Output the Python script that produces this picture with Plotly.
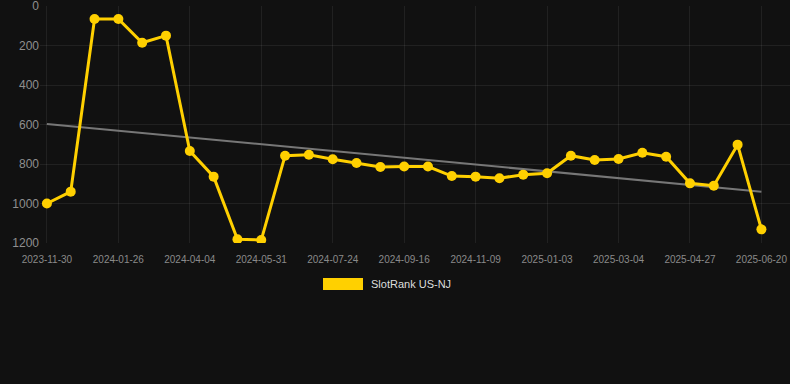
import plotly.graph_objects as go

dates = [
    "2023-11-30", "2023-12-19", "2024-01-07",
    "2024-01-26", "2024-02-18", "2024-03-12",
    "2024-04-04", "2024-04-23", "2024-05-12",
    "2024-05-31", "2024-06-18", "2024-07-06",
    "2024-07-24", "2024-08-11", "2024-08-29",
    "2024-09-16", "2024-10-04", "2024-10-22",
    "2024-11-09", "2024-11-27", "2024-12-16",
    "2025-01-03", "2025-01-23", "2025-02-12",
    "2025-03-04", "2025-03-22", "2025-04-09",
    "2025-04-27", "2025-05-15", "2025-06-02",
    "2025-06-20",
]
ranks = [
    1000, 940, 66,
    66, 186, 150,
    734, 864, 1181,
    1185, 758, 753,
    776, 795, 815,
    813, 813, 861,
    864, 872, 854,
    847, 758, 780,
    775, 743, 763,
    898, 910, 702,
    1131,
]
tick_labels = [
    "2023-11-30", "2024-01-26", "2024-04-04", "2024-05-31", "2024-07-24",
    "2024-09-16", "2024-11-09", "2025-01-03", "2025-03-04", "2025-04-27",
    "2025-06-20",
]
trend_dates = ["2023-11-30", "2025-06-20"]
trend_values = [597, 940]
y_ticks = [0, 200, 400, 600, 800, 1000, 1200]
series_name = "SlotRank US-NJ"

gold = "#FFD000"
bg = "#111111"
grid = "rgba(255,255,255,0.07)"

fig = go.Figure()
fig.add_trace(go.Scatter(
    x=trend_dates, y=trend_values, mode="lines",
    line=dict(color="#777777", width=2), hoverinfo="skip", showlegend=False,
))
fig.add_trace(go.Scatter(
    x=dates, y=ranks, mode="lines+markers", name=series_name,
    line=dict(color=gold, width=3), marker=dict(color=gold, size=10),
    showlegend=False,
))

fig.update_layout(
    width=790, height=384,
    paper_bgcolor=bg, plot_bgcolor=bg,
    margin=dict(l=40, r=0, t=6, b=141),
    font=dict(family="Liberation Sans, Arial, sans-serif", color="#888888"),
    xaxis=dict(
        type="category", categoryorder="array", categoryarray=dates,
        range=[-0.29, 31.2],
        tickmode="array", tickvals=tick_labels, ticktext=tick_labels,
        tickfont=dict(size=10, color="#8a8a8a"),
        showgrid=True, gridcolor=grid, gridwidth=1,
        zeroline=False, showline=False, ticks="", ticklen=0,
        ticklabeloverflow="allow", ticklabelstandoff=9,
    ),
    yaxis=dict(
        range=[1200.001, -0.001], tickvals=y_ticks,
        tickfont=dict(size=12, color="#8f8f8f"),
        showgrid=True, gridcolor=grid, gridwidth=1,
        zeroline=False, showline=False, ticks="",
        ticklabeloverflow="allow",
    ),
    shapes=[dict(
        type="rect", xref="paper", yref="paper",
        x0=(323 - 40) / 750, x1=(363 - 40) / 750,
        y0=(243 - 290) / 237, y1=(243 - 278) / 237,
        fillcolor=gold, line=dict(width=0),
    )],
    annotations=[dict(
        xref="paper", yref="paper",
        x=(369 - 40) / 750, y=(243 - 284) / 237,
        xanchor="left", yanchor="middle", showarrow=False,
        text=series_name, font=dict(size=11, color="#dddddd"),
    )],
)

fig.write_html(
    "out.html",
    config={"displayModeBar": False},
    post_script="document.body.style.margin='0';document.body.style.background='#111111';document.body.style.overflow='hidden';",
)
